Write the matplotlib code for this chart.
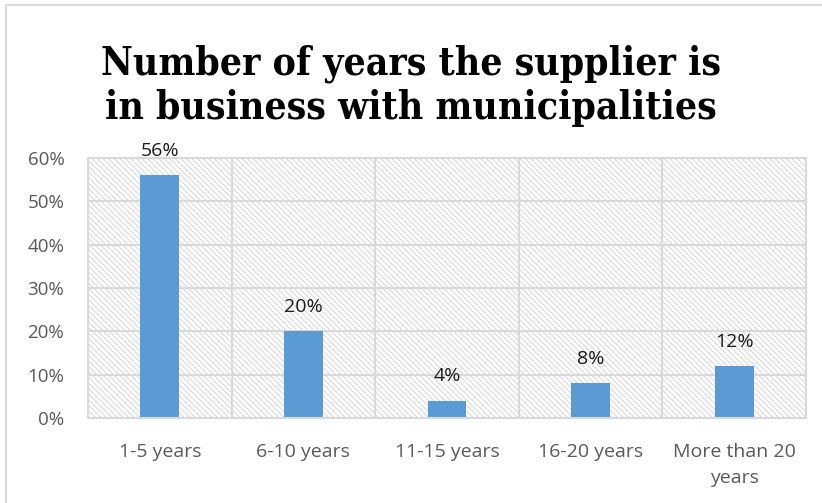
import matplotlib.pyplot as plt
from matplotlib.patches import Rectangle
import numpy as np

plt.rcParams['font.family'] = ['Open Sans', 'DejaVu Sans']
plt.rcParams['hatch.color'] = '#d6d6d6'
plt.rcParams['hatch.linewidth'] = 0.7

# Survey results
categories = ['1-5 years', '6-10 years', '11-15 years', '16-20 years', 'More than 20\nyears']
shares = [56, 20, 4, 8, 12]
y_ticks = [0, 10, 20, 30, 40, 50, 60]

grid_col = '#d9d9d9'
bar_col = '#5b9bd5'

fig = plt.figure(figsize=(8.22, 5.03), dpi=100)
ax = fig.add_axes([0.107, 0.169, 0.8735, 0.517])

x = np.arange(len(categories))
ax.set_xlim(-0.5, len(categories) - 0.5)
ax.set_ylim(0, 60)

# hatched background of the plot area
ax.add_patch(Rectangle((0, 0), 1, 1, transform=ax.transAxes, facecolor='white',
                       edgecolor='#d6d6d6', hatch='\\\\\\\\\\\\', linewidth=0, zorder=0))

for yt in y_ticks:
    ax.axhline(yt, color=grid_col, linewidth=1.5, zorder=1)
for xb in np.arange(0.5, len(categories) - 0.5, 1):
    ax.axvline(xb, color=grid_col, linewidth=1.5, zorder=1)

bars = ax.bar(x, shares, width=0.27, color=bar_col, zorder=2)
for xi, v in zip(x, shares):
    ax.annotate(f'{v}%', (xi, v), xytext=(0, 11), textcoords='offset points',
                ha='center', va='bottom', fontsize=14, color='#1a1a1a')

ax.set_xticks(x)
ax.set_xticklabels(categories, fontsize=14, color='#595959', linespacing=1.55)
ax.set_yticks(y_ticks)
ax.set_yticklabels([f'{t}%' for t in y_ticks], fontsize=13.5, color='#595959')
ax.tick_params(length=0)
ax.tick_params(axis='y', pad=17)
ax.tick_params(axis='x', pad=18)
for s in ax.spines.values():
    s.set_color(grid_col)
    s.set_linewidth(1.5)

fig.text(0.5, 0.829, 'Number of years the supplier is\nin business with municipalities',
         ha='center', va='center', fontsize=28, fontweight='bold',
         family='DejaVu Serif', fontstretch='condensed', linespacing=1.2)

# chart border
fig.add_artist(Rectangle((6 / 822, -0.05), 1.1, 1.05 - 5.5 / 503, transform=fig.transFigure,
                         fill=False, edgecolor=grid_col, linewidth=1.5))

fig.savefig('out.png', dpi=100)
